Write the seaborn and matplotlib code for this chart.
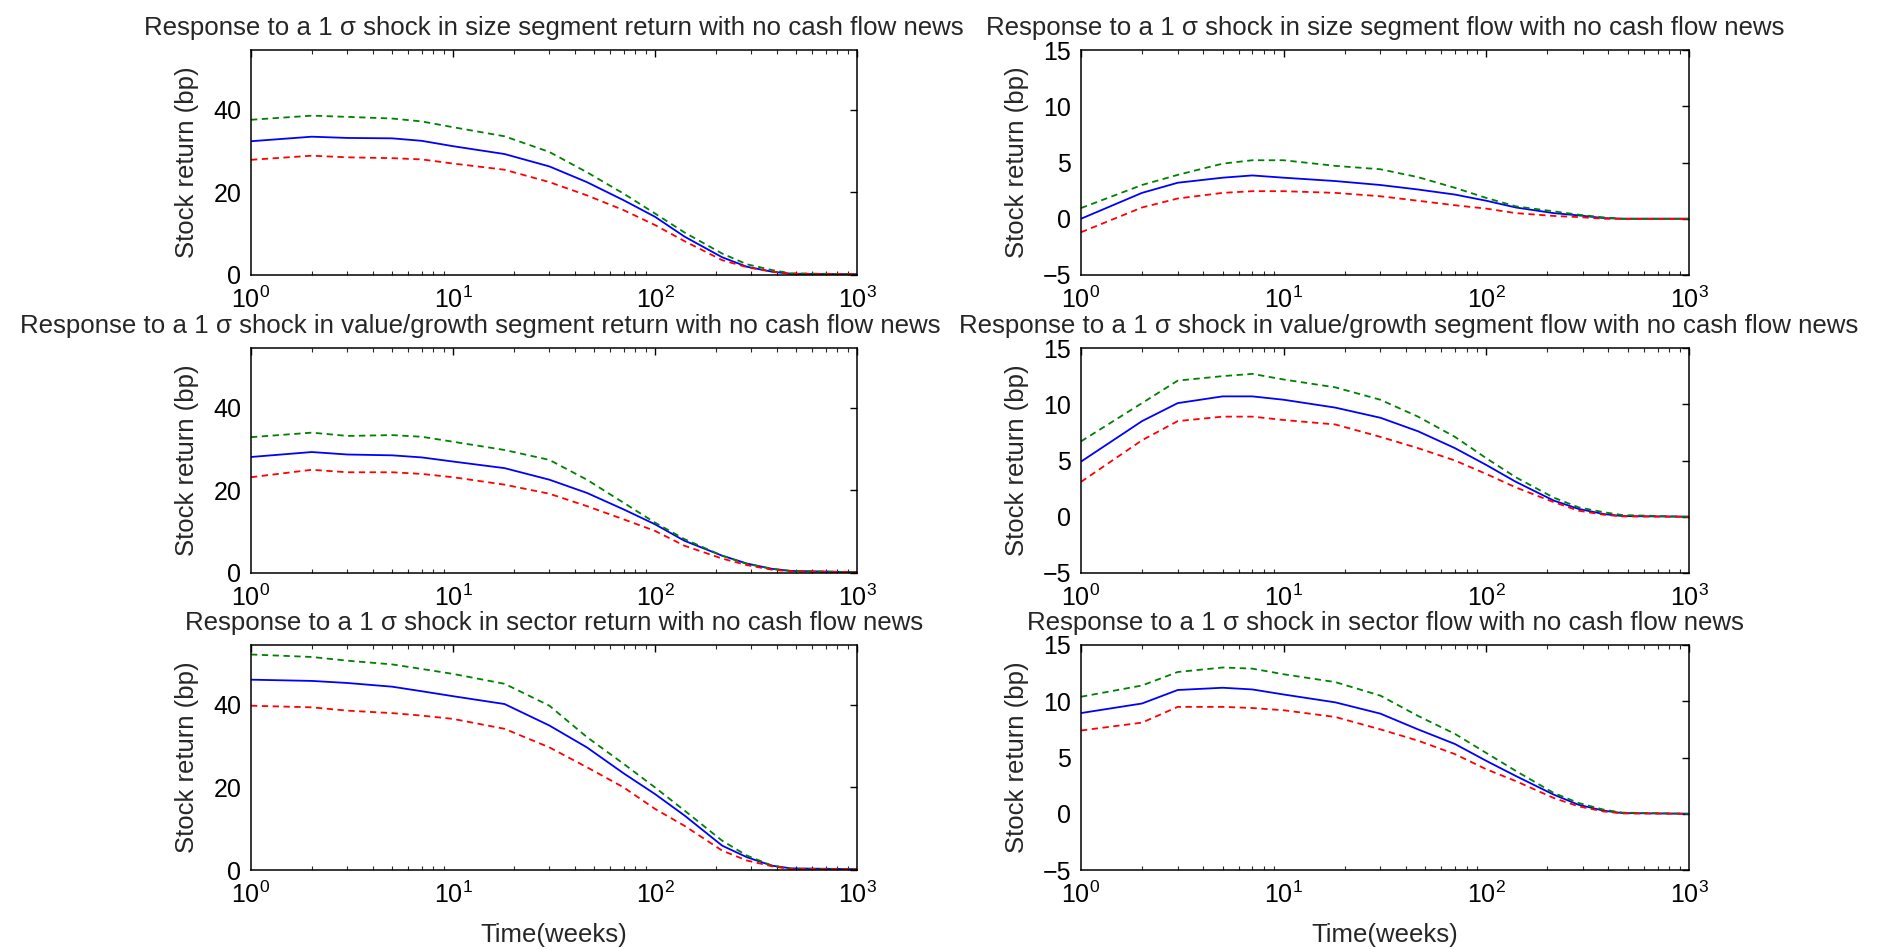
import numpy as np
import pandas as pd
import matplotlib
matplotlib.use("Agg")
import matplotlib.pyplot as plt
import seaborn as sns
from matplotlib.ticker import LogLocator, NullFormatter, FixedLocator

# ---------------- data ----------------
WEEKS = [1, 2, 3, 5, 7, 10, 18, 30, 46, 70, 100, 140, 215, 285, 380, 470, 1000]

TITLES = [
    "Response to a 1 \u03c3 shock in size segment return with no cash flow news",
    "Response to a 1 \u03c3 shock in size segment flow with no cash flow news",
    "Response to a 1 \u03c3 shock in value/growth segment return with no cash flow news",
    "Response to a 1 \u03c3 shock in value/growth segment flow with no cash flow news",
    "Response to a 1 \u03c3 shock in sector return with no cash flow news",
    "Response to a 1 \u03c3 shock in sector flow with no cash flow news",
]
YLABEL = "Stock return (bp)"
XLABEL = "Time(weeks)"

# size segment return
size_ret_mid = [32.4, 33.5, 33.2, 33.1, 32.5, 31.2, 29.3, 26.3, 22.5, 18.1, 14.1, 9.3, 4.3, 2.0, 0.8, 0.3, 0.2]
size_ret_up  = [37.6, 38.6, 38.3, 37.9, 37.2, 35.8, 33.6, 29.8, 24.9, 19.7, 14.9, 10.3, 5.2, 2.6, 1.2, 0.4, 0.2]
size_ret_lo  = [27.9, 28.9, 28.5, 28.3, 28.0, 27.0, 25.5, 22.5, 19.3, 15.7, 12.1, 8.2, 3.6, 1.9, 0.8, 0.3, 0.2]
# size segment flow
size_flow_mid = [0.0, 2.3, 3.2, 3.65, 3.85, 3.65, 3.35, 3.0, 2.6, 2.15, 1.6, 1.0, 0.5, 0.3, 0.06, 0.0, 0.0]
size_flow_up  = [0.95, 3.0, 3.9, 4.9, 5.2, 5.2, 4.7, 4.4, 3.7, 2.75, 1.85, 1.1, 0.66, 0.36, 0.12, 0.0, 0.0]
size_flow_lo  = [-1.2, 1.0, 1.8, 2.3, 2.45, 2.45, 2.3, 2.0, 1.6, 1.2, 0.9, 0.5, 0.25, 0.15, 0.0, 0.0, 0.0]
# value/growth segment return
vg_ret_mid = [28.1, 29.3, 28.7, 28.5, 28.0, 27.0, 25.4, 22.6, 19.4, 15.4, 11.8, 7.8, 4.2, 2.3, 1.0, 0.5, 0.2]
vg_ret_up  = [32.9, 34.0, 33.2, 33.4, 33.0, 31.8, 29.8, 27.4, 22.6, 17.0, 12.2, 8.2, 4.2, 2.2, 1.0, 0.5, 0.2]
vg_ret_lo  = [23.2, 25.0, 24.4, 24.4, 24.0, 23.2, 21.4, 19.2, 16.2, 13.0, 10.2, 6.6, 3.5, 1.9, 0.8, 0.4, 0.2]
# value/growth segment flow
vg_flow_mid = [4.9, 8.5, 10.1, 10.7, 10.7, 10.4, 9.7, 8.8, 7.6, 6.1, 4.6, 3.1, 1.44, 0.7, 0.24, 0.06, 0.0]
vg_flow_up  = [6.7, 10.1, 12.1, 12.5, 12.7, 12.2, 11.5, 10.4, 8.9, 7.1, 5.2, 3.5, 1.7, 0.84, 0.4, 0.15, 0.0]
vg_flow_lo  = [3.1, 6.8, 8.5, 8.9, 8.9, 8.6, 8.2, 7.1, 6.1, 5.0, 3.8, 2.6, 1.3, 0.54, 0.18, 0.03, 0.0]
# sector return
sec_ret_mid = [46.1, 45.8, 45.3, 44.4, 43.3, 42.1, 40.2, 35.0, 29.7, 23.4, 18.4, 13.2, 5.9, 3.1, 1.05, 0.4, 0.2]
sec_ret_up  = [52.2, 51.6, 50.7, 49.8, 48.7, 47.5, 45.1, 39.8, 32.2, 25.7, 20.0, 14.4, 7.1, 3.5, 1.05, 0.25, 0.2]
sec_ret_lo  = [39.8, 39.4, 38.6, 38.0, 37.4, 36.6, 34.2, 29.7, 24.9, 20.0, 14.8, 10.7, 4.7, 2.3, 0.9, 0.25, 0.2]
# sector flow
sec_flow_mid = [8.95, 9.8, 11.0, 11.2, 11.05, 10.6, 9.9, 8.9, 7.5, 6.2, 4.7, 3.35, 1.7, 0.8, 0.27, 0.06, 0.0]
sec_flow_up  = [10.4, 11.4, 12.6, 13.0, 12.9, 12.4, 11.7, 10.5, 8.7, 7.1, 5.4, 3.8, 1.85, 0.96, 0.36, 0.1, 0.0]
sec_flow_lo  = [7.4, 8.1, 9.5, 9.5, 9.4, 9.2, 8.6, 7.5, 6.5, 5.3, 3.95, 2.9, 1.4, 0.66, 0.2, 0.03, 0.0]

PANELS = [
    (size_ret_mid, size_ret_up, size_ret_lo),
    (size_flow_mid, size_flow_up, size_flow_lo),
    (vg_ret_mid, vg_ret_up, vg_ret_lo),
    (vg_flow_mid, vg_flow_up, vg_flow_lo),
    (sec_ret_mid, sec_ret_up, sec_ret_lo),
    (sec_flow_mid, sec_flow_up, sec_flow_lo),
]
RET_YTICKS = [0, 20, 40]
FLOW_YTICKS = [-5, 0, 5, 10, 15]

# ---------------- style ----------------
sns.set_style("white")
plt.rcParams["font.family"] = ["Liberation Sans", "DejaVu Sans"]
plt.rcParams["mathtext.default"] = "regular"

W, H = 1877, 949
fig = plt.figure(figsize=(W / 100, H / 100), dpi=100)
fig.patch.set_facecolor("white")

left_x, left_w = 251 / W, 606 / W
right_x, right_w = 1081 / W, 608 / W
ax_h = 225 / H
row_bottoms = [1 - 275 / H, 1 - 573 / H, 1 - 870 / H]
# horizontal title centres (axes fraction), as placed in the reference
TITLE_X = [0.5, 0.5, 0.378, 0.539, 0.5, 0.5]

BLUE, GREEN, RED = "#0000FF", "#008000", "#FF0000"

for i, (mid, up, lo) in enumerate(PANELS):
    row, col = divmod(i, 2)
    x0 = left_x if col == 0 else right_x
    w = left_w if col == 0 else right_w
    ax = fig.add_axes([x0, row_bottoms[row], w, ax_h])
    df = pd.DataFrame({"week": WEEKS, "mid": mid, "up": up, "lo": lo})
    sns.lineplot(data=df, x="week", y="mid", ax=ax, color=BLUE, linewidth=1.3, linestyle="-")
    sns.lineplot(data=df, x="week", y="up", ax=ax, color=GREEN, linewidth=1.3, linestyle=(0, (3.5, 2.5)))
    sns.lineplot(data=df, x="week", y="lo", ax=ax, color=RED, linewidth=1.3, linestyle=(0, (3.5, 2.5)))
    ax.set_xscale("log")
    ax.set_xlim(1, 1000)
    if col == 0:
        ax.set_ylim(0, 54.5)
        ax.yaxis.set_major_locator(FixedLocator(RET_YTICKS))
    else:
        ax.set_ylim(-5, 15)
        ax.yaxis.set_major_locator(FixedLocator(FLOW_YTICKS))
    ax.xaxis.set_major_locator(LogLocator(base=10, numticks=10))
    ax.xaxis.set_minor_locator(LogLocator(base=10, subs=np.arange(2, 10), numticks=20))
    ax.xaxis.set_minor_formatter(NullFormatter())
    ax.tick_params(axis="both", which="major", direction="in", length=5, width=1,
                   top=True, right=True, labelsize=18, pad=7, colors="black")
    ax.tick_params(axis="x", which="major", pad=8)
    ax.tick_params(axis="x", which="minor", direction="in", length=2.8, width=0.8,
                   top=True, bottom=True)
    for sp in ax.spines.values():
        sp.set_visible(True)
        sp.set_color("black")
        sp.set_linewidth(1.1)
    ax.set_title(TITLES[i], fontsize=18.6, pad=11, x=TITLE_X[i])
    ax.set_ylabel(YLABEL, fontsize=18.5)
    ax.yaxis.set_label_coords(-0.085, 0.5)
    if row == 2:
        ax.set_xlabel(XLABEL, fontsize=18.5)
        ax.xaxis.set_label_coords(0.5, -0.235)
    else:
        ax.set_xlabel("")

fig.savefig("out.png", dpi=100, facecolor="white")
